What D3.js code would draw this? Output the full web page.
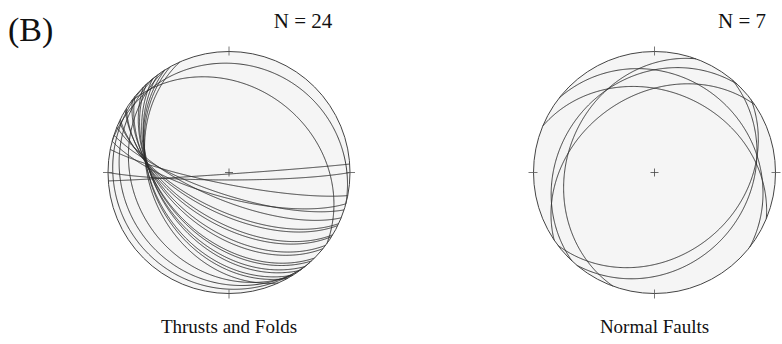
<!DOCTYPE html>
<html>
<head>
<meta charset="utf-8">
<script src="https://cdn.jsdelivr.net/npm/d3@7"></script>
<style>
  html, body { margin: 0; padding: 0; background: #fff; }
  svg { display: block; }
  text { font-family: "Liberation Serif", "Times New Roman", serif; fill: #111; }
</style>
</head>
<body>
<svg id="chart" width="782" height="344"></svg>
<script>
// Panel label and per-net annotations
const panelLabel = "(B)";
const netTitles = ["Thrusts and Folds", "Normal Faults"];
const netCounts = ["N = 24", "N = 7"];

// Thrust and fold planes: strike (right-hand rule, degrees) and dip (degrees)
const thrustStrikes = [101, 108, 105, 112, 115, 116, 121, 122, 127, 129,
                       135, 137, 141, 144, 148, 151, 156, 148, 143, 138,
                       86, 90, 285, 306];
const thrustDips    = [82, 75, 73, 71, 64, 62, 57, 55, 51, 49,
                       45, 44, 42, 41, 38, 37, 35, 22, 13, 6,
                       89, 85, 11, 29];

// Normal fault planes: strike (right-hand rule, degrees) and dip (degrees)
const normalStrikes = [308, 292.5, 223, 236, 53, 40, 200];
const normalDips    = [20.3, 33.0, 23.1, 35.9, 30.2, 22.8, 28];

const svg = d3.select("#chart");
const R = 121;
const centers = [[229, 172.5], [654.5, 172.5]];
const countX = [303, 742];

// Equal-area (Schmidt) radius: projected distance as a fraction of the primitive
const rScale = d3.scaleLinear().domain([0, 1]).range([0, R]);
const rad = Math.PI / 180;

// Points along a plane's great circle, lower hemisphere, equal-area
function greatCirclePoints(strike, dip) {
  const s = strike * rad, d = dip * rad, dd = s + Math.PI / 2;
  const S = [Math.cos(s), Math.sin(s), 0];
  const D = [Math.cos(dd) * Math.cos(d), Math.sin(dd) * Math.cos(d), Math.sin(d)];
  return d3.range(0, 180.5, 0.5).map(t => {
    const c = Math.cos(t * rad), sn = Math.sin(t * rad);
    const v = [c * S[0] + sn * D[0], c * S[1] + sn * D[1], Math.max(0, c * S[2] + sn * D[2])];
    const plunge = Math.asin(Math.min(1, v[2]));
    const trend = Math.atan2(v[1], v[0]);
    const r = rScale(Math.SQRT2 * Math.sin((Math.PI / 2 - plunge) / 2));
    return [r * Math.sin(trend), -r * Math.cos(trend)];
  });
}

const line = d3.line().curve(d3.curveLinear);

function drawNet(idx, strikes, dips) {
  const [cx, cy] = centers[idx];
  const g = svg.append("g").attr("transform", `translate(${cx},${cy})`);

  // primitive circle with faint fill
  g.append("circle").attr("r", R).attr("fill", "#f5f5f5").attr("stroke", "none");

  // great circles
  g.append("g").selectAll("path")
    .data(strikes.map((s, i) => [s, dips[i]]))
    .join("path")
    .attr("d", ([s, d]) => line(greatCirclePoints(s, d)))
    .attr("fill", "none")
    .attr("stroke", "#2a2a2a")
    .attr("stroke-width", 0.9);

  g.append("circle").attr("r", R).attr("fill", "none").attr("stroke", "#444").attr("stroke-width", 1);

  // cardinal ticks
  const tickIn = R - 4, tickOut = R + 5;
  [0, 90, 180, 270].forEach(a => {
    const sa = Math.sin(a * rad), ca = -Math.cos(a * rad);
    g.append("line")
      .attr("x1", sa * tickIn).attr("y1", ca * tickIn)
      .attr("x2", sa * tickOut).attr("y2", ca * tickOut)
      .attr("stroke", "#555").attr("stroke-width", 0.8);
  });
  // centre cross
  g.append("line").attr("x1", -4).attr("x2", 4).attr("y1", 0).attr("y2", 0).attr("stroke", "#444").attr("stroke-width", 0.8);
  g.append("line").attr("y1", -4).attr("y2", 4).attr("x1", 0).attr("x2", 0).attr("stroke", "#444").attr("stroke-width", 0.8);

  // annotations
  svg.append("text").attr("x", countX[idx]).attr("y", 28)
    .attr("text-anchor", "middle").attr("font-size", 21).text(netCounts[idx]);
  svg.append("text").attr("x", cx).attr("y", 333)
    .attr("text-anchor", "middle").attr("font-size", 19).text(netTitles[idx]);
}

drawNet(0, thrustStrikes, thrustDips);
drawNet(1, normalStrikes, normalDips);

svg.append("text").attr("x", 8).attr("y", 41).attr("font-size", 34).text(panelLabel);
</script>
</body>
</html>
